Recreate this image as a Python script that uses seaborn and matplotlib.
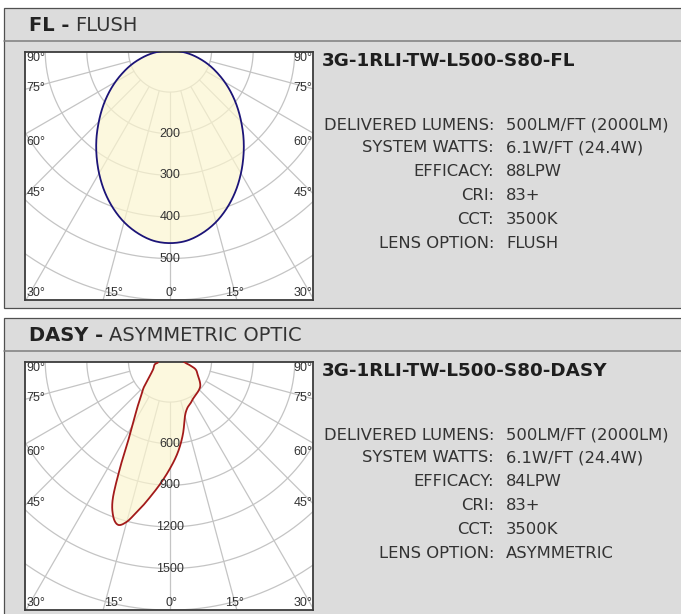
import numpy as np
import matplotlib
matplotlib.use("Agg")
import matplotlib.pyplot as plt
from matplotlib.patches import Rectangle
from matplotlib.lines import Line2D
import seaborn as sns

sns.set_theme(style="white")
plt.rcParams['font.family'] = ['DejaVu Sans']

W, H = 681, 614

# --- photometric data (candela) ---
fl_angles = [-90, -85, -80, -75, -70, -65, -60, -55, -50, -45, -40, -35, -30, -25, -20, -15, -10, -5,
             0, 5, 10, 15, 20, 25, 30, 35, 40, 45, 50, 55, 60, 65, 70, 75, 80, 85, 90]
fl_candela = [0, 24, 48, 72, 98, 124, 152, 181, 211, 242, 275, 308, 341, 373, 402, 427, 446, 459,
              463, 459, 446, 427, 402, 373, 341, 308, 275, 242, 211, 181, 152, 124, 98, 72, 48, 24, 0]
fl_rings = [100, 200, 300, 400, 500, 600, 700]
fl_ring_labels = [200, 300, 400, 500]

dasy_angles = [-90, -80, -75, -60, -45, -40, -35, -30, -27.5, -25, -22.5, -20, -17.5, -15, -12.5, -10, -5,
               0, 5, 10, 15, 20, 25, 30, 35, 40, 45, 50, 55, 60, 70, 75, 80, 90]
dasy_candela = [70, 90, 115, 145, 262, 320, 409, 543, 655, 849, 1078, 1197, 1243, 1204, 1123, 1047, 905,
                779, 662, 538, 416, 365, 345, 325, 313, 305, 297, 285, 262, 235, 200, 161, 120, 70]
dasy_rings = [300, 600, 900, 1200, 1500, 1800, 2100]
dasy_ring_labels = [600, 900, 1200, 1500]

angle_ticks = [-90, -75, -60, -45, -30, -15, 0, 15, 30, 45, 60, 75, 90]

spec_keys = ["DELIVERED LUMENS:", "SYSTEM WATTS:", "EFFICACY:", "CRI:", "CCT:", "LENS OPTION:"]
fl_specs = ["500LM/FT (2000LM)", "6.1W/FT (24.4W)", "88LPW", "83+", "3500K", "FLUSH"]
dasy_specs = ["500LM/FT (2000LM)", "6.1W/FT (24.4W)", "84LPW", "83+", "3500K", "ASYMMETRIC"]

PANEL = '#dcdcdc'
GRID = '#c4c4c4'
CREAM = '#fcf6cf'
LABEL = '#333333'

fig = plt.figure(figsize=(W / 100, H / 100), dpi=100)
fig.patch.set_facecolor('white')


def fx(px):
    return px / W


def fy(py):
    return 1 - py / H


def smooth_closed(x, y, n=12):
    # Catmull-Rom through the read points, closed loop (drawing only)
    pts = np.column_stack([x, y])
    if np.allclose(pts[0], pts[-1]):
        pts = pts[:-1]
    m = len(pts)
    out = []
    s = np.linspace(0, 1, n, endpoint=False)[:, None]
    for i in range(m):
        p0, p1, p2, p3 = pts[i - 1], pts[i], pts[(i + 1) % m], pts[(i + 2) % m]
        out.append(0.5 * ((2 * p1) + (-p0 + p2) * s + (2 * p0 - 5 * p1 + 4 * p2 - p3) * s ** 2
                          + (-p0 + 3 * p1 - 3 * p2 + p3) * s ** 3))
    out = np.vstack(out + [pts[:1]])
    return out[:, 0], out[:, 1]


def panel(top, bottom, code, name, model, specs, angles, cd, rings, ring_labels, edge):
    # grey card + header rule
    fig.patches.append(Rectangle((fx(3.5), fy(bottom)), fx(700), (bottom - top) / H,
                                 transform=fig.transFigure, facecolor=PANEL,
                                 edgecolor='#505050', lw=0.9, zorder=-2))
    fig.lines.append(Line2D([fx(4), fx(700)], [fy(top + 33.5), fy(top + 33.5)],
                            transform=fig.transFigure, color='#7d7d7d', lw=1.1, zorder=-1))

    # header text: bold code + regular name
    t = fig.text(fx(29), fy(top + 18), code + " -", fontsize=14, fontweight='bold',
                 color='#222222', va='center', ha='left')
    fig.canvas.draw()
    bb = t.get_window_extent()
    fig.text(bb.x1 / W + fx(6), fy(top + 18), name, fontsize=14, color='#333333',
             va='center', ha='left')

    # polar box
    btop = top + 44.5
    ax = fig.add_axes([fx(25), fy(btop + 248), 288 / W, 248 / H])
    ppu = 41.6 / rings[0]
    ax.set_xlim(-145 / ppu, 143 / ppu)
    ax.set_ylim(-249.5 / ppu, -1.5 / ppu)
    ax.set_xticks([])
    ax.set_yticks([])
    ax.set_facecolor('white')
    for s in ax.spines.values():
        s.set_color('#3c3c3c')
        s.set_linewidth(1.3)

    t_ring = np.linspace(-np.pi, np.pi, 400)
    for r in rings:
        ax.plot(r * np.sin(t_ring), -r * np.cos(t_ring), color=GRID, lw=0.9, zorder=1)
    for a in angle_ticks:
        ar = np.radians(a)
        r0, r1 = rings[0], rings[-1] * 2
        ax.plot([r0 * np.sin(ar), r1 * np.sin(ar)], [-r0 * np.cos(ar), -r1 * np.cos(ar)],
                color=GRID, lw=0.9, zorder=1)

    th = np.radians(angles)
    cd = np.asarray(cd, dtype=float)
    xs, ys = smooth_closed(cd * np.sin(th), -cd * np.cos(th))
    ax.fill(xs, ys, color=CREAM, alpha=0.68, lw=0, zorder=2)
    sns.lineplot(x=xs, y=ys, sort=False, estimator=None, color=edge, lw=1.3, ax=ax, zorder=3)

    for v in ring_labels:
        ax.text(0, -v, str(v), ha='center', va='center', fontsize=9,
                family='Liberation Sans', color=LABEL, zorder=4)

    # angle labels
    side = [("90°", 6), ("75°", 36), ("60°", 90), ("45°", 141)]
    for lab, off in side:
        ax.text(1.5 / 288, 1 - off / 248, lab, transform=ax.transAxes, ha='left', va='center',
                fontsize=9, family='Liberation Sans', color=LABEL, zorder=4)
        ax.text(287.5 / 288, 1 - off / 248, lab, transform=ax.transAxes, ha='right', va='center',
                fontsize=9, family='Liberation Sans', color=LABEL, zorder=4)
    bottom_labs = [("30°", 1.5, 'left'), ("15°", 88.5, 'center'), ("0°", 146, 'center'),
                   ("15°", 209.5, 'center'), ("30°", 287.5, 'right')]
    for lab, off, ha in bottom_labs:
        ax.text(off / 288, 1 - 241 / 248, lab, transform=ax.transAxes, ha=ha, va='center',
                fontsize=9, family='Liberation Sans', color=LABEL, zorder=4)

    # spec block
    fig.text(fx(322), fy(top + 53.5), model, fontsize=13.2, fontweight='bold', color='#1e1e1e',
             va='center', ha='left')
    rows = [117.5, 140.5, 164.5, 188.5, 212.5, 236.5]
    for k, v, yy in zip(spec_keys, specs, rows):
        fig.text(fx(494), fy(top + yy), k, fontsize=11.8, color='#333333', va='center', ha='right')
        fig.text(fx(506), fy(top + yy), v, fontsize=11.8, color='#333333', va='center', ha='left')


panel(7.5, 308, "FL", "FLUSH", "3G-1RLI-TW-L500-S80-FL", fl_specs,
      fl_angles, fl_candela, fl_rings, fl_ring_labels, '#1c1478')
panel(317.5, 640, "DASY", "ASYMMETRIC OPTIC", "3G-1RLI-TW-L500-S80-DASY", dasy_specs,
      dasy_angles, dasy_candela, dasy_rings, dasy_ring_labels, '#a31a1a')

fig.savefig("out.png", dpi=100)
